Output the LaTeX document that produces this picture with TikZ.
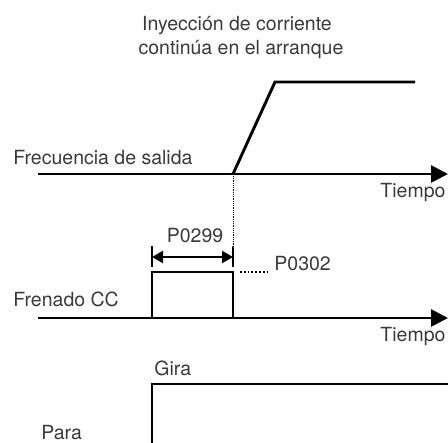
\documentclass[tikz,border=0pt]{standalone}
\usepackage{fontspec}
\setmainfont{TeX Gyre Heros}
\usetikzlibrary{arrows.meta,positioning}
\definecolor{txtgray}{HTML}{3A3A3A}

\begin{document}
\begin{tikzpicture}[x=1pt,y=-1pt,line width=2.9pt,
    lbl/.style={text=txtgray,inner sep=0pt,font=\fontsize{19.5}{24}\selectfont},
    axis/.style={-{Triangle[length=17pt,width=17pt]}},
    guide/.style={line width=0.8pt,densely dotted},
    dimarrow/.style={{Triangle[length=11pt,width=12pt]}-{Triangle[length=11pt,width=12pt]},line width=2.2pt}]
    \useasboundingbox (0,0) rectangle (448,443);

    % titulo
    \node[lbl,anchor=base] (tit1) at (237,31) {Inyección de corriente};
    \node[lbl,anchor=base] (tit2) at (241,55) {continúa en el arranque};

    % frecuencia de salida
    \coordinate (f0) at (38,174);
    \coordinate (f1) at (448,174);
    \coordinate (r0) at (233,174);
    \coordinate (r1) at (275,82);
    \coordinate (r2) at (415,82);
    \draw[axis] (f0) -- (f1);
    \draw[line join=miter] (r0) -- (r1) -- (r2);
    \node[lbl,anchor=base west] (frec) at (12,165) {Frecuencia de salida};
    \node[lbl,anchor=base east] (t1) at (447,198) {Tiempo};

    % linea guia
    \coordinate (g0) at (233,176);
    \coordinate (g1) at (233,246);
    \draw[guide] (g0) -- (g1);

    % P0299
    \coordinate (b0a) at (152,246);
    \coordinate (b0b) at (152,267);
    \coordinate (b1a) at (233,246);
    \coordinate (b1b) at (233,267);
    \draw[line width=2.2pt] (b0a) -- (b0b);
    \draw[line width=2.2pt] (b1a) -- (b1b);
    \coordinate (d0) at (152,257);
    \coordinate (d1) at (233,257);
    \draw[dimarrow] (d0) -- (d1);
    \node[lbl,anchor=base] (p299) at (195,243) {P0299};

    % frenado CC
    \coordinate (c0) at (38,318);
    \coordinate (c1) at (448,318);
    \coordinate (p0) at (152,318);
    \coordinate (p1) at (152,272);
    \coordinate (p2) at (233,272);
    \coordinate (p3) at (233,318);
    \draw[axis] (c0) -- (c1);
    \draw[line join=miter] (p0) -- (p1) -- (p2) -- (p3);
    \node[lbl,anchor=base west] (fren) at (12,307) {Frenado CC};
    \node[lbl,anchor=base east] (t2) at (447,342) {Tiempo};

    % P0302
    \coordinate (q0) at (240,272);
    \coordinate (q1) at (270,272);
    \draw[line width=1.8pt,dotted] (q0) -- (q1);
    \node[lbl,anchor=base west] (p302) at (273,271) {P0302};

    % gira / para
    \coordinate (s0) at (152,443);
    \coordinate (s1) at (152,384);
    \coordinate (s2) at (448,384);
    \draw[line join=miter] (s0) -- (s1) -- (s2);
    \node[lbl,anchor=base west] (gira) at (153,376) {Gira};
    \node[lbl,anchor=base west] (para) at (40,440) {Para};
\end{tikzpicture}
\end{document}
